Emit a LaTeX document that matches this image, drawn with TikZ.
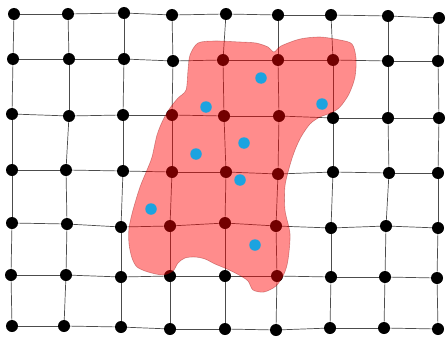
\documentclass[tikz,border=0pt]{standalone}
\usepackage{tikz}
\definecolor{dotblue}{RGB}{28,163,224}
\tikzset{
  griddot/.style={circle,fill=black,inner sep=0pt,minimum size=12pt},
  bluedot/.style={circle,fill=dotblue,inner sep=0pt,minimum size=11.5pt},
  gridline/.style={draw=black!70,line width=0.7pt},
  blob/.style={fill=red,fill opacity=0.45,draw=red!50!black,draw opacity=0.35,line width=0.6pt}
}
\begin{document}
\begin{tikzpicture}[x=1pt,y=-1pt]
\useasboundingbox (0,0) rectangle (446,337);
% grid dots
\foreach \r/\pts in {
 0/{14/14,68/14,124/13,172/15,226/14,278/15,331/15,388/16,439/18},
 1/{13/59,69/59,124/59,173/61,223/60,278/60,333/60,388/61,438/61},
 2/{12/114,69/116,123/115,172/115,224/116,279/116,333/118,388/118,439/118},
 3/{12/170,66/170,123/171,172/172,226/172,278/174,333/172,389/173,438/173},
 4/{12/223,67/224,121/227,170/226,225/223,276/226,331/228,386/226,438/228},
 5/{11/275,66/275,121/277,170/276,225/276,277/276,331/277,385/277,437/278},
 6/{12/326,64/326,121/327,170/329,225/329,276/330,330/328,384/328,438/329}}{
  \foreach \x/\y [count=\c] in \pts {
    \node[griddot] (d-\r-\c) at (\x,\y) {};
  }
}
% horizontal lines
\foreach \r in {0,...,6}{
  \foreach \c [evaluate=\c as \n using int(\c+1)] in {1,...,8}{
    \draw[gridline] (d-\r-\c) -- (d-\r-\n);
  }
}
% vertical lines
\foreach \r [evaluate=\r as \n using int(\r+1)] in {0,...,5}{
  \foreach \c in {1,...,9}{
    \draw[gridline] (d-\r-\c) -- (d-\n-\c);
  }
}
% blob
\draw[blob] plot[smooth cycle,tension=0.5] coordinates {
 (198,43) (215,41) (240,42) (256,43) (268,47) (274,52) (281,46) (300,39)
 (320,37) (340,40) (352,44) (356,58) (355,77) (349,94) (340,107) (331,113)
 (320,117) (310,124) (301,137) (295,150) (290,165) (285,186) (285,210)
 (290,234) (288,260) (284,274) (276,286) (264,292) (253,290) (248,281)
 (239,275) (227,269) (215,264) (205,259) (195,257) (185,258) (178,263)
 (173,271) (163,275) (148,272) (137,267) (132,258) (129,244) (129,228)
 (133,210) (140,187) (147,170) (152,157) (157,135) (163,120) (170,108)
 (178,98) (186,90) (188,70) (190,55)};
% blue dots
\node[bluedot] (b1) at (261,78) {};
\node[bluedot] (b2) at (322,104) {};
\node[bluedot] (b3) at (206,107) {};
\node[bluedot] (b4) at (244,143) {};
\node[bluedot] (b5) at (196,154) {};
\node[bluedot] (b6) at (240,180) {};
\node[bluedot] (b7) at (151,209) {};
\node[bluedot] (b8) at (255,245) {};
\end{tikzpicture}
\end{document}
